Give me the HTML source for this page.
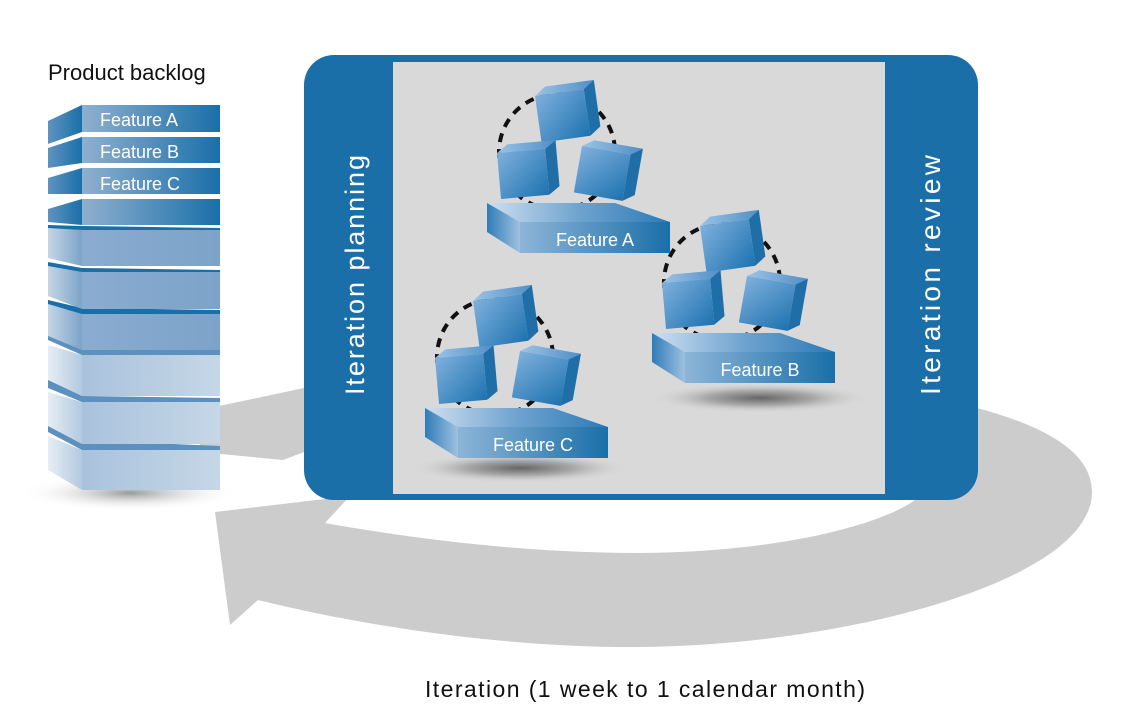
<!DOCTYPE html>
<html><head><meta charset="utf-8"><style>html,body{margin:0;padding:0;background:#fff}svg{display:block}</style></head>
<body>
<svg width="1122" height="718" viewBox="0 0 1122 718" xmlns="http://www.w3.org/2000/svg" font-family="Liberation Sans, sans-serif">
<defs>
<linearGradient id="dk" x1="0" x2="1"><stop offset="0" stop-color="#8fb0d0"/><stop offset="1" stop-color="#1a6fa8"/></linearGradient>
<linearGradient id="dks" x1="0" x2="1"><stop offset="0" stop-color="#5f93c0"/><stop offset="1" stop-color="#1a6fa8"/></linearGradient>
<linearGradient id="md" x1="0" x2="1"><stop offset="0" stop-color="#8aaccf"/><stop offset="1" stop-color="#7ca3c9"/></linearGradient>
<linearGradient id="mds" x1="0" x2="1"><stop offset="0" stop-color="#c6d6e6"/><stop offset="1" stop-color="#7ca3c9"/></linearGradient>
<linearGradient id="lt" x1="0" x2="1"><stop offset="0" stop-color="#a9c2dc"/><stop offset="1" stop-color="#c6d7e7"/></linearGradient>
<linearGradient id="lts" x1="0" x2="1"><stop offset="0" stop-color="#e6eef5"/><stop offset="1" stop-color="#b3c9df"/></linearGradient>
<radialGradient id="sh"><stop offset="0" stop-color="#666"/><stop offset="0.5" stop-color="#aaa"/><stop offset="1" stop-color="#d9d9d9" stop-opacity="0"/></radialGradient>
<radialGradient id="shw"><stop offset="0" stop-color="#999"/><stop offset="1" stop-color="#fff" stop-opacity="0"/></radialGradient>
<linearGradient id="cf" x1="0" y1="0" x2="1" y2="1"><stop offset="0" stop-color="#7fb0dc"/><stop offset="1" stop-color="#1d72b0"/></linearGradient>
<linearGradient id="ct" x1="0" x2="1"><stop offset="0" stop-color="#9cc3e6"/><stop offset="1" stop-color="#4f8fc6"/></linearGradient>
<linearGradient id="pf" x1="0" x2="1"><stop offset="0" stop-color="#8db5d8"/><stop offset="1" stop-color="#1a6fa8"/></linearGradient>
<linearGradient id="pt" x1="0" x2="1"><stop offset="0" stop-color="#cfdff0"/><stop offset="0.5" stop-color="#6fa3cf"/><stop offset="1" stop-color="#2d7ab7"/></linearGradient>
<linearGradient id="ps" x1="0" x2="1"><stop offset="0" stop-color="#2f7cb8"/><stop offset="1" stop-color="#9fc1e0"/></linearGradient>
<g id="cube">
<polygon points="0,0 10,-7 54,-7 44,0" fill="url(#ct)"/>
<polygon points="44,0 54,-7 54,35 44,42" fill="#1f6ea8"/>
<rect x="0" y="0" width="44" height="42" fill="url(#cf)"/>
</g>
<g id="plat">
<polygon points="0,0 128,0 183,19 33,19" fill="url(#pt)"/>
<polygon points="0,0 33,19 33,50 0,29" fill="url(#ps)"/>
<rect x="33" y="19" width="150" height="31" fill="url(#pf)"/>
</g>
</defs>

<path d="M215 512 L350 496 L325 523 C420 540 530 553 640 553 C780 552 880 525 915 500 L960 470 L960 400 L977 408 C1040 425 1092 450 1092 492 C1092 580 850 645 640 647 C520 648 380 630 258 600 L230 625 Z" fill="#cccccc"/>
<polygon points="200,410 304,388 304,452 283,460 200,452" fill="#cccccc"/>

<ellipse cx="130" cy="493" rx="110" ry="18" fill="url(#shw)"/>
<g>
<polygon points="48,436 82,450 82,490 48,470" fill="url(#lts)"/><polygon points="48,420 82,440 220,446 220,450 82,450 48,432" fill="#5d8fbf"/><rect x="82" y="450" width="138" height="40" fill="url(#lt)"/>
<polygon points="48,392 82,402 82,444 48,426" fill="url(#lts)"/><polygon points="48,378 82,396 220,398 220,402 82,402 48,388" fill="#5d8fbf"/><rect x="82" y="402" width="138" height="42" fill="url(#lt)"/>
<polygon points="48,345 82,355 82,396 48,380" fill="url(#lts)"/><polygon points="48,335 82,348 220,350 220,355 82,355 48,340" fill="#5d8fbf"/><rect x="82" y="355" width="138" height="41" fill="url(#lt)"/>
<polygon points="48,300 82,314 82,350 48,336" fill="url(#mds)"/><polygon points="48,300 82,308 220,310 220,314 82,314 48,304" fill="#1a6fa8"/><rect x="82" y="314" width="138" height="36" fill="url(#md)"/>
<polygon points="48,263 82,272 82,309 48,296" fill="url(#mds)"/><polygon points="48,262 82,268 220,270 220,272 82,272 48,266" fill="#1a6fa8"/><rect x="82" y="272" width="138" height="37" fill="url(#md)"/>
<polygon points="48,226 82,230 82,266 48,258" fill="url(#mds)"/><polygon points="48,225 82,226 220,228 220,230 82,230 48,228" fill="#1a6fa8"/><rect x="82" y="230" width="138" height="36" fill="url(#md)"/>
<polygon points="48,209 82,199 82,225 48,222" fill="url(#dks)"/><rect x="82" y="199" width="138" height="26" fill="url(#dk)"/>
<polygon points="48,178 82,168 82,194 48,194" fill="url(#dks)"/><rect x="82" y="168" width="138" height="26" fill="url(#dk)"/>
<polygon points="48,148 82,137 82,163 48,168" fill="url(#dks)"/><rect x="82" y="137" width="138" height="26" fill="url(#dk)"/>
<polygon points="48,121 82,105 82,132 48,144" fill="url(#dks)"/><rect x="82" y="105" width="138" height="27" fill="url(#dk)"/>
<g fill="#fff" font-size="18"><text x="100" y="126">Feature A</text><text x="100" y="158">Feature B</text><text x="100" y="190">Feature C</text></g>
</g>
<text x="48" y="80" font-size="22" fill="#111">Product backlog</text>

<rect x="304" y="55" width="674" height="445" rx="30" fill="#1a6fa8"/>
<rect x="393" y="62" width="492" height="432" fill="#d9d9d9"/>
<text transform="translate(364,275) rotate(-90)" text-anchor="middle" font-size="27" fill="#fff" textLength="240">Iteration planning</text>
<text transform="translate(940,275) rotate(-90)" text-anchor="middle" font-size="28" fill="#fff" textLength="240">Iteration review</text>

<ellipse cx="760" cy="398" rx="110" ry="15" fill="url(#sh)"/>
<ellipse cx="520" cy="468" rx="110" ry="15" fill="url(#sh)"/>

<g fill="none" stroke="#111" stroke-width="4" stroke-dasharray="9 7">
<circle cx="557" cy="152" r="58"/>
<circle cx="722" cy="282" r="58"/>
<circle cx="495" cy="357" r="58"/>
</g>

<g transform="translate(487,203)"><use href="#plat"/><text x="108" y="43" text-anchor="middle" font-size="18" fill="#fff">Feature A</text></g>
<use href="#cube" transform="translate(535,96) rotate(-8) scale(1.12)"/>
<use href="#cube" transform="translate(497,153) rotate(-5) scale(1.1)"/>
<use href="#cube" transform="translate(582,146) rotate(10) scale(1.12)"/>

<g transform="translate(652,333)"><use href="#plat"/><text x="108" y="43" text-anchor="middle" font-size="18" fill="#fff">Feature B</text></g>
<use href="#cube" transform="translate(700,226) rotate(-8) scale(1.12)"/>
<use href="#cube" transform="translate(662,283) rotate(-5) scale(1.1)"/>
<use href="#cube" transform="translate(747,276) rotate(10) scale(1.12)"/>

<g transform="translate(425,408)"><use href="#plat"/><text x="108" y="43" text-anchor="middle" font-size="18" fill="#fff">Feature C</text></g>
<use href="#cube" transform="translate(473,301) rotate(-8) scale(1.12)"/>
<use href="#cube" transform="translate(435,358) rotate(-5) scale(1.1)"/>
<use href="#cube" transform="translate(520,351) rotate(10) scale(1.12)"/>

<text x="425" y="697" font-size="23" fill="#111" textLength="440">Iteration (1 week to 1 calendar month)</text>
</svg>
</body></html>
